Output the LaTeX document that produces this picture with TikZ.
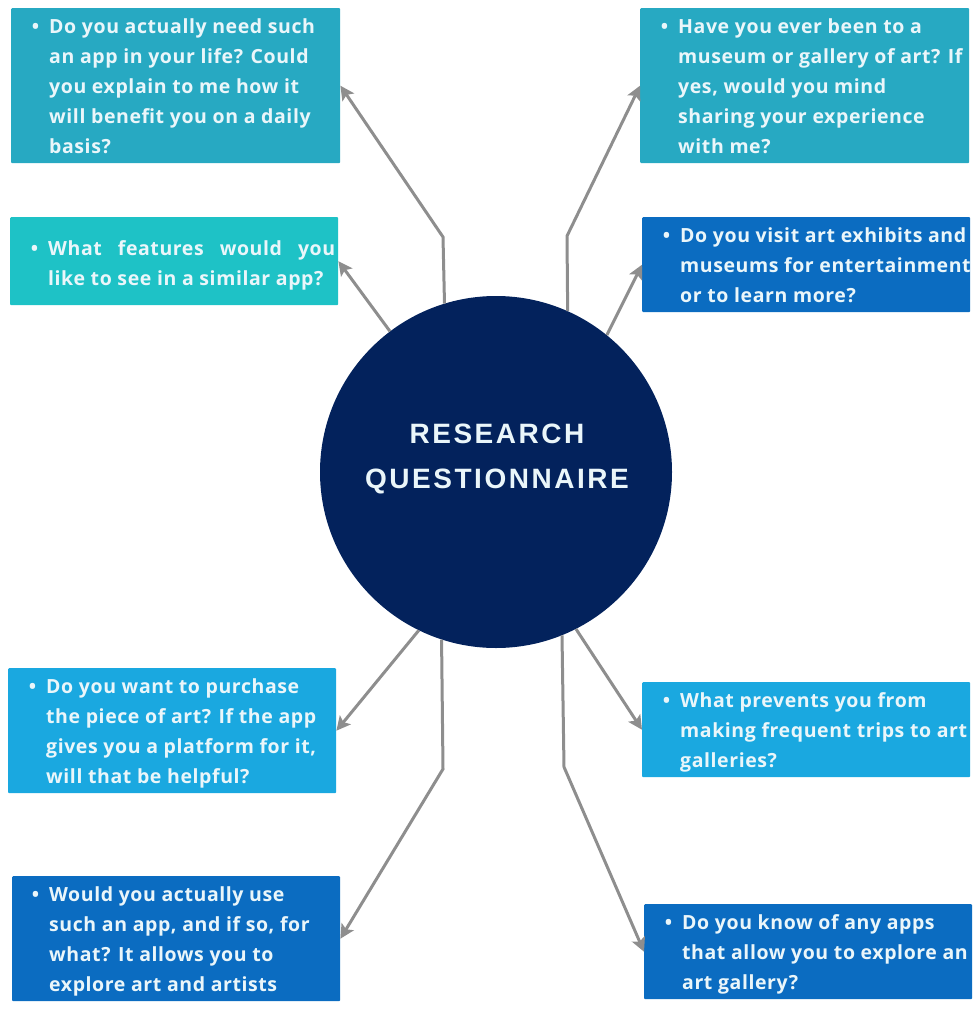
\documentclass[tikz,border=0pt]{standalone}
\usepackage{fontspec}
\setmainfont{Open Sans}[BoldFont={* Bold}]
\newfontfamily\bodyfont{Open Sans}[BoldFont={* Bold},LetterSpace=3]
\newfontfamily\titlefont{Liberation Sans}[BoldFont={* Bold},LetterSpace=9]
\usetikzlibrary{arrows.meta}

\definecolor{navy}{HTML}{03225C}
\definecolor{tealbox}{HTML}{27A9C2}
\definecolor{cyanbox}{HTML}{1EC2C6}
\definecolor{bluebox}{HTML}{0B6CC1}
\definecolor{skybox}{HTML}{1AA8E0}
\definecolor{linkgray}{HTML}{8E8E8E}
\definecolor{paletext}{HTML}{EAF6FA}

\newcommand{\qlines}[1]{\llap{\textbullet\hspace{10pt}}\begin{tabular}[t]{@{}l@{}}#1\end{tabular}}

\tikzset{
  qbox/.style={rectangle, fill=#1, anchor=north west, inner sep=0pt, rounded corners=1pt},
  qtext/.style={anchor=base west, inner sep=0pt, text=paletext,
    font=\bodyfont\bfseries\fontsize{19.5}{30}\selectfont},
  link/.style={draw=linkgray, line width=3pt, line join=miter,
    -{Stealth[length=14pt,width=14pt,inset=3pt]}},
}

\begin{document}
\begin{tikzpicture}[x=1pt,y=-1pt]
\useasboundingbox (0,0) rectangle (977,1012);

% question boxes
\node[qbox=tealbox, minimum width=329pt, minimum height=155pt] (tl1) at (11,8) {};
\node[qbox=cyanbox, minimum width=328pt, minimum height=88pt]  (tl2) at (10,217) {};
\node[qbox=tealbox, minimum width=329pt, minimum height=155pt] (tr1) at (640,8) {};
\node[qbox=bluebox, minimum width=328pt, minimum height=95pt]  (tr2) at (642,217) {};
\node[qbox=skybox,  minimum width=328pt, minimum height=125pt] (bl1) at (8,668) {};
\node[qbox=bluebox, minimum width=328pt, minimum height=125pt] (bl2) at (12,876) {};
\node[qbox=skybox,  minimum width=328pt, minimum height=95pt]  (br1) at (642,682) {};
\node[qbox=bluebox, minimum width=328pt, minimum height=95pt]  (br2) at (644,904) {};

% question texts
\node[qtext] (tl1t) at ([shift={(38pt,-25pt)}]tl1.north west) {\qlines{Do you actually need such\\an app in your life? Could\\you explain to me how it\\will benefit you on a daily\\basis?}};
\node[qtext] (tl2t) at ([shift={(38pt,-38pt)}]tl2.north west) {\qlines{\makebox[287pt][s]{What features would you}\\like to see in a similar app?}};
\node[qtext] (tr1t) at ([shift={(38pt,-25pt)}]tr1.north west) {\qlines{Have you ever been to a\\museum or gallery of art? If\\yes, would you mind\\sharing your experience\\with me?}};
\node[qtext] (tr2t) at ([shift={(38pt,-25pt)}]tr2.north west) {\qlines{Do you visit art exhibits and\\museums for entertainment\\or to learn more?}};
\node[qtext] (bl1t) at ([shift={(38pt,-25pt)}]bl1.north west) {\qlines{Do you want to purchase\\the piece of art? If the app\\gives you a platform for it,\\will that be helpful?}};
\node[qtext] (bl2t) at ([shift={(37pt,-25pt)}]bl2.north west) {\qlines{Would you actually use\\such an app, and if so, for\\what? It allows you to\\explore art and artists}};
\node[qtext] (br1t) at ([shift={(38pt,-25pt)}]br1.north west) {\qlines{What prevents you from\\making frequent trips to art\\galleries?}};
\node[qtext] (br2t) at ([shift={(38pt,-25pt)}]br2.north west) {\qlines{Do you know of any apps\\that allow you to explore an\\art gallery?}};

% hub
\node[circle, fill=navy, minimum size=352pt, inner sep=0pt] (hub) at (496,472) {};
\node[text=paletext, font=\titlefont\bfseries\fontsize{28}{45}\selectfont, align=center] (title) at (497,459) {RESEARCH\\QUESTIONNAIRE};

% connectors
\coordinate (k1) at (443,237);
\coordinate (k2) at (567,236);
\coordinate (k3) at (443,769);
\coordinate (k4) at (564,767);
\draw[link] (hub.107.4) -- (k1) -- (tl1.east);
\draw[link] (hub.127) -- (tl2.east);
\draw[link] (hub.66.2) -- (k2) -- (tr1.west);
\draw[link] (hub.51.9) -- (tr2.west);
\draw[link] (hub.244.9) -- (bl1.east);
\draw[link] (hub.252.6) -- (k3) -- (bl2.east);
\draw[link] (hub.297) -- (br1.west);
\draw[link] (hub.292.8) -- (k4) -- (br2.west);
\end{tikzpicture}
\end{document}
